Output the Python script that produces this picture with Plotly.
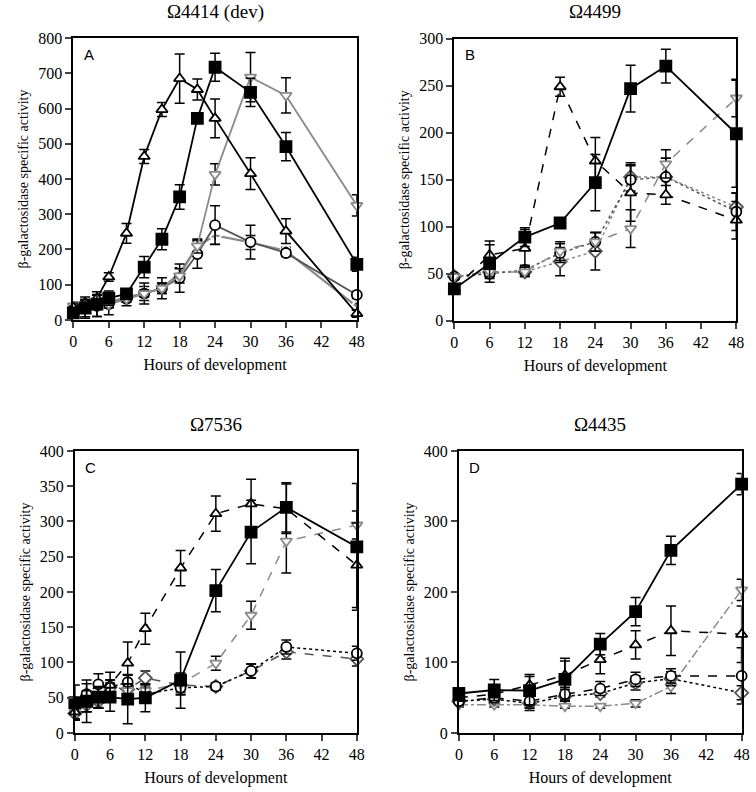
import plotly.graph_objects as go
from plotly.subplots import make_subplots

# ---- panel A : Omega4414 (dev)
hrs_a = [0, 2, 4, 6, 9, 12, 15, 18, 21, 24, 30, 36, 48]
a_tri = [35, 48, 62, 122, 246, 464, 597, 685, 654, 572, 415, 252, 18]
a_tri_err = [10, 8, 10, 12, 28, 20, 20, 70, 30, 55, 45, 35, 10]
a_sq = [20, 34, 45, 62, 74, 150, 229, 349, 572, 717, 646, 492, 158]
a_sq_err = [15, 25, 35, 20, 10, 30, 30, 35, 10, 40, 40, 40, 20]
a_dtri = [40, 40, 45, 45, 60, 75, 90, 125, 210, 413, 689, 637, 325]
a_dtri_err = [10, 10, 10, 10, 10, 10, 15, 20, 20, 30, 70, 50, 30]
a_circ = [30, 35, 40, 45, 60, 75, 90, 119, 187, 269, 221, 190, 71]
a_circ_err = [10, 30, 30, 30, 20, 30, 30, 40, 40, 55, 48, 10, 10]
a_dia = [30, 35, 45, 50, 65, 75, 90, 133, 209, 240, 220, 196, 38]
a_dia_err = [10, 10, 10, 15, 10, 20, 15, 15, 15, 25, 20, 10, 10]

# ---- panel B : Omega4499
hrs_b = [0, 6, 12, 18, 24, 30, 36, 48]
b_sq = [34, 61, 89, 104, 147, 247, 271, 199]
b_sq_err = [3, 20, 10, 3, 30, 25, 18, 57]
b_tri = [34, 70, 77, 249, 170, 136, 134, 107]
b_tri_err = [3, 15, 20, 10, 25, 30, 10, 20]
b_dtri = [47, 52, 52, 74, 84, 98, 167, 237]
b_dtri_err = [3, 5, 5, 10, 10, 20, 15, 20]
b_circ = [47, 50, 54, 72, 84, 150, 153, 116]
b_circ_err = [3, 5, 5, 10, 10, 15, 20, 20]
b_dia = [47, 52, 52, 63, 74, 153, 153, 121]
b_dia_err = [3, 5, 5, 15, 20, 15, 20, 15]

# ---- panel C : Omega7536
hrs_c = [0, 2, 4, 6, 9, 12, 18, 24, 30, 36, 48]
c_sq = [43, 45, 51, 51, 48, 50, 75, 202, 285, 320, 264]
c_sq_err = [25, 30, 15, 20, 35, 20, 40, 30, 45, 35, 90]
c_tri = [30, 45, 50, 68, 99, 148, 234, 311, 325, 318, 238]
c_tri_err = [10, 15, 15, 18, 30, 22, 25, 25, 35, 35, 60]
c_dtri = [30, 40, 45, 60, 60, 60, 70, 99, 167, 272, 295]
c_dtri_err = [10, 10, 10, 10, 10, 10, 15, 10, 20, 45, 20]
c_circ = [40, 55, 69, 65, 72, 55, 64, 66, 88, 122, 113]
c_circ_err = [10, 15, 15, 10, 10, 10, 10, 5, 10, 10, 10]
c_dia = [28, 40, 45, 65, 62, 78, 68, 66, 88, 115, 105]
c_dia_err = [10, 10, 10, 10, 10, 10, 10, 5, 10, 10, 10]

# ---- panel D : Omega4435
hrs_d = [0, 6, 12, 18, 24, 30, 36, 48]
d_sq = [56, 61, 60, 76, 126, 172, 259, 353]
d_sq_err = [5, 15, 20, 30, 15, 20, 20, 15]
d_tri = [50, 55, 68, 82, 104, 125, 145, 140]
d_tri_err = [5, 5, 15, 20, 20, 20, 35, 40]
d_circ = [45, 50, 45, 55, 63, 76, 81, 81]
d_circ_err = [5, 5, 10, 10, 10, 10, 10, 40]
d_dia = [45, 48, 42, 52, 56, 71, 77, 57]
d_dia_err = [5, 5, 10, 5, 5, 10, 10, 10]
d_dtri = [40, 40, 40, 38, 38, 42, 66, 203]
d_dtri_err = [3, 3, 3, 3, 3, 5, 10, 15]

titles = ["\u03a94414 (dev)", "\u03a94499", "\u03a97536", "\u03a94435"]
letters = ["A", "B", "C", "D"]

BLACK = "black"
GRAY = "#8a8a8a"
DGRAY = "#555555"

fig = make_subplots(rows=2, cols=2)


def add(row, col, x, y, err, symbol, mcolor, fill, lcolor, dash, width=1.8):
    fig.add_trace(go.Scatter(
        x=x, y=y, mode="lines+markers",
        line=dict(color=lcolor, width=width, dash=dash),
        marker=dict(symbol=symbol, size=10 if "square" not in symbol else 11,
                    color=fill, line=dict(color=mcolor, width=1.8)),
        error_y=dict(type="data", array=err, color=BLACK, thickness=1.5, width=5),
        cliponaxis=False, showlegend=False), row=row, col=col)


# A
add(1, 1, hrs_a, a_dia, a_dia_err, "diamond-open", DGRAY, "white", GRAY, "solid", 2.2)
add(1, 1, hrs_a, a_circ, a_circ_err, "circle", BLACK, "white", DGRAY, "solid")
add(1, 1, hrs_a, a_dtri, a_dtri_err, "triangle-down", GRAY, "white", GRAY, "solid")
add(1, 1, hrs_a, a_tri, a_tri_err, "triangle-up", BLACK, "white", BLACK, "solid")
add(1, 1, hrs_a, a_sq, a_sq_err, "square", BLACK, BLACK, BLACK, "solid")
# B
add(1, 2, hrs_b, b_dia, b_dia_err, "diamond", DGRAY, "white", GRAY, "dot", 1.5)
add(1, 2, hrs_b, b_circ, b_circ_err, "circle", BLACK, "white", DGRAY, "dot", 1.5)
add(1, 2, hrs_b, b_dtri, b_dtri_err, "triangle-down", GRAY, "white", GRAY, "dash", 1.5)
add(1, 2, hrs_b, b_tri, b_tri_err, "triangle-up", BLACK, "white", BLACK, "dash", 1.5)
add(1, 2, hrs_b, b_sq, b_sq_err, "square", BLACK, BLACK, BLACK, "solid")
# C
add(2, 1, hrs_c, c_dia, c_dia_err, "diamond", DGRAY, "white", DGRAY, "dash", 1.5)
add(2, 1, hrs_c, c_circ, c_circ_err, "circle", BLACK, "white", BLACK, "dot", 1.5)
add(2, 1, hrs_c, c_dtri, c_dtri_err, "triangle-down", GRAY, "white", GRAY, "dash", 1.5)
add(2, 1, hrs_c, c_tri, c_tri_err, "triangle-up", BLACK, "white", BLACK, "dash", 1.5)
add(2, 1, hrs_c, c_sq, c_sq_err, "square", BLACK, BLACK, BLACK, "solid")
# D
add(2, 2, hrs_d, d_dtri, d_dtri_err, "triangle-down", GRAY, "white", GRAY, "dashdot", 1.5)
add(2, 2, hrs_d, d_dia, d_dia_err, "diamond", DGRAY, "white", BLACK, "dot", 1.5)
add(2, 2, hrs_d, d_circ, d_circ_err, "circle", BLACK, "white", BLACK, "dash", 1.5)
add(2, 2, hrs_d, d_tri, d_tri_err, "triangle-up", BLACK, "white", BLACK, "dash", 1.5)
add(2, 2, hrs_d, d_sq, d_sq_err, "square", BLACK, BLACK, BLACK, "solid")

serif = "Liberation Serif"
domains = [
    ([0.097, 0.472], [0.596, 0.952]),
    ([0.601, 0.974], [0.595, 0.951]),
    ([0.099, 0.472], [0.0745, 0.4306]),
    ([0.607, 0.981], [0.0745, 0.4306]),
]
title_y = [0.985, 0.985, 0.4634, 0.4634]
yranges = [[0, 800], [0, 300], [0, 400], [0, 400]]
ydticks = [100, 50, 50, 100]

for i in range(4):
    n = "" if i == 0 else str(i + 1)
    xd, yd = domains[i]
    fig.layout["xaxis" + n].update(
        domain=xd, range=[0, 48], tick0=0, dtick=6, ticks="outside", ticklen=6,
        tickwidth=1.5, showline=True, linewidth=1.8, linecolor="black", mirror=True,
        showgrid=False, zeroline=False, automargin=False,
        tickfont=dict(family=serif, size=16, color="black"),
        title=dict(text="Hours of development", font=dict(family=serif, size=16, color="black"),
                   standoff=10))
    fig.layout["yaxis" + n].update(
        domain=yd, range=yranges[i], tick0=0, dtick=ydticks[i], ticks="outside", ticklen=6,
        tickwidth=1.5, showline=True, linewidth=1.8, linecolor="black", mirror=True,
        showgrid=False, zeroline=False, automargin=False,
        tickfont=dict(family=serif, size=16, color="black"),
        title=dict(text="\u03b2-galactosidase specific activity",
                   font=dict(family=serif, size=14, color="black"), standoff=6))
    xm = (xd[0] + xd[1]) / 2
    fig.add_annotation(text=titles[i], xref="paper", yref="paper", x=xm, y=title_y[i],
                       xanchor="center", yanchor="middle", showarrow=False,
                       font=dict(family=serif, size=19, color="black"))
    fig.add_annotation(text=letters[i], xref="x" + n + " domain", yref="y" + n + " domain",
                       x=0.03, y=0.98, xanchor="left", yanchor="top", showarrow=False,
                       font=dict(family="Liberation Sans", size=15, color="black"))

fig.update_layout(width=756, height=792, plot_bgcolor="white", paper_bgcolor="white",
                  margin=dict(l=0, r=0, t=0, b=0), showlegend=False)

# drop the browser's default body margin so the figure sits at the page corner
fig.write_html("out.html", config={"displayModeBar": False},
               post_script="document.body.style.margin='0';")
